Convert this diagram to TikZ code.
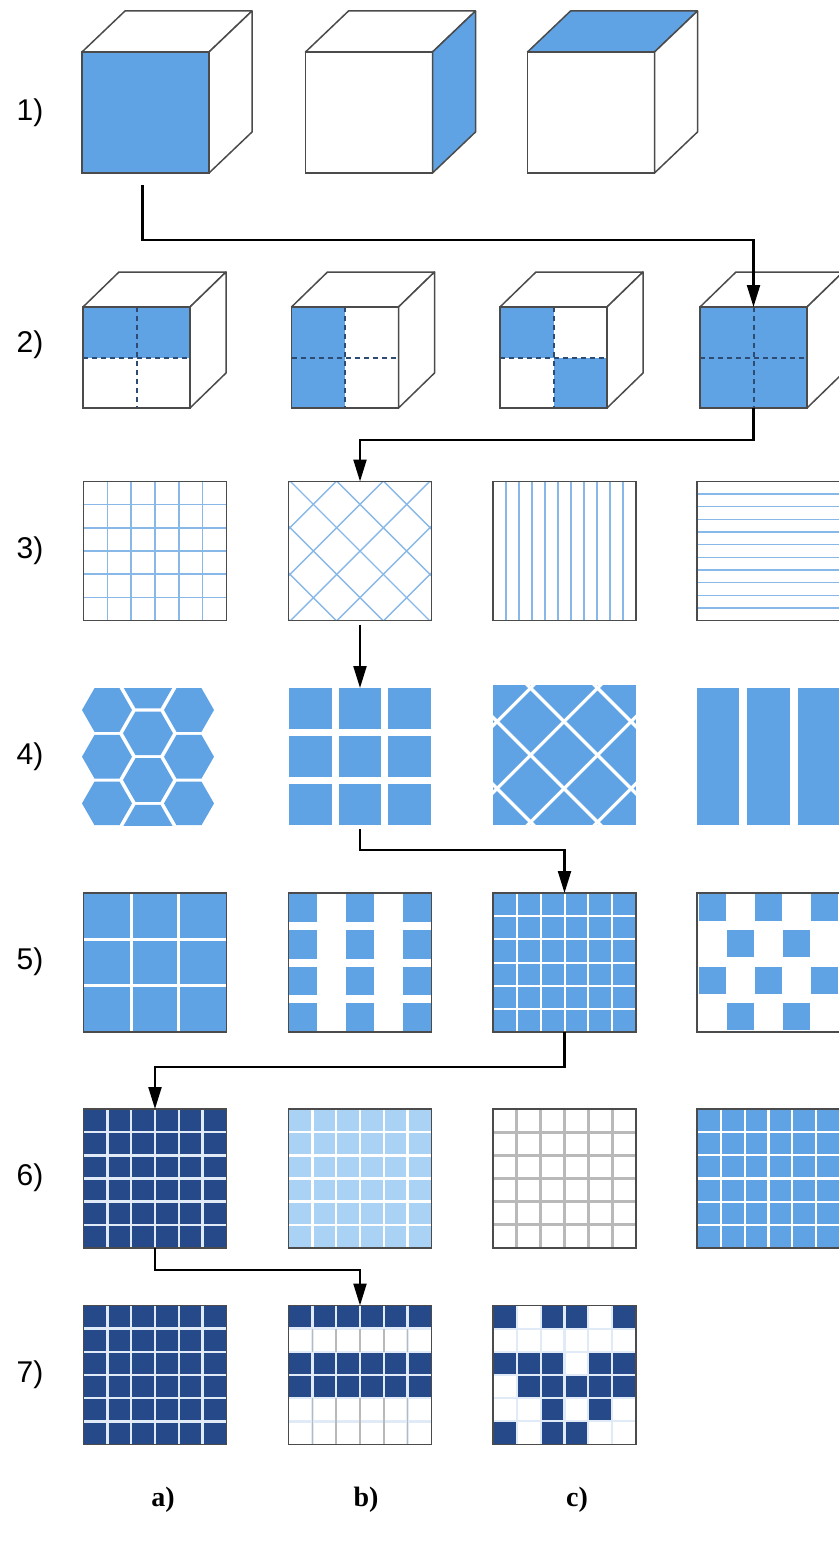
\documentclass[tikz,border=0pt]{standalone}
\usepackage{fontspec}
\setmainfont{Liberation Serif}
\newfontfamily\lblfont{Liberation Sans}
\usetikzlibrary{calc,arrows.meta}
\definecolor{bl}{RGB}{96,163,229}
\definecolor{nv}{RGB}{38,73,138}
\definecolor{lb}{RGB}{170,210,244}
\definecolor{gl}{RGB}{135,184,232}
\definecolor{bd}{RGB}{75,75,75}
\definecolor{dsh}{RGB}{45,75,115}
\definecolor{gr}{RGB}{185,185,185}
\definecolor{wl}{RGB}{225,235,248}
\newcommand\gridsix[2]{%
  \foreach \k in {1,...,5} {%
    \draw[#1,line width=#2] ({\k*143/6},0) -- ({\k*143/6},139);
    \draw[#1,line width=#2] (0,{\k*139/6}) -- (143,{\k*139/6});}}
\newcommand\cubetop[4]{%
  \filldraw[edgeline,fill=#4] (#1.north west) -- (#1.north east) -- ++(#2,-#3) -- ($(#1.north west)+(#2,-#3)$) -- cycle;}
\newcommand\cubeside[4]{%
  \filldraw[edgeline,fill=#4] (#1.north east) -- (#1.south east) -- ++(#2,-#3) -- ($(#1.north east)+(#2,-#3)$) -- cycle;}
\newcommand\hexat[2]{%
  \fill[bl] ({#1-25},{#2}) -- ({#1-12.5},{#2-21.8}) -- ({#1+12.5},{#2-21.8}) -- ({#1+25},{#2}) -- ({#1+12.5},{#2+21.8}) -- ({#1-12.5},{#2+21.8}) -- cycle;}
\begin{document}
\begin{tikzpicture}[x=1pt,y=-1pt,
  tile/.style={minimum width=143pt,minimum height=139pt,inner sep=0pt,outer sep=0pt},
  face/.style={inner sep=0pt,outer sep=0pt},
  edgeline/.style={draw=bd,line width=1.5pt,line join=round},
  border/.style={draw=bd,line width=1.5pt},
  dashline/.style={draw=dsh,line width=2pt,dash pattern=on 5pt off 4pt},
  conn/.style={draw=black,line width=2.2pt,-{Triangle[length=22pt,width=13pt]}},
  rowlabel/.style={font=\lblfont\fontsize{30}{30}\selectfont},
  collabel/.style={font=\bfseries\fontsize{28}{28}\selectfont}]
\useasboundingbox (0,0) rectangle (838,1546);
\fill[white] (0,0) rectangle (838,1546);

% ---------- row labels
\node[rowlabel] (l1) at (30,113) {1)};
\node[rowlabel] (l2) at (30,345) {2)};
\node[rowlabel] (l3) at (30,551) {3)};
\node[rowlabel] (l4) at (30,757) {4)};
\node[rowlabel] (l5) at (30,962) {5)};
\node[rowlabel] (l6) at (30,1178) {6)};
\node[rowlabel] (l7) at (30,1375) {7)};

% ---------- row 1 cubes
\node[face,minimum width=127pt,minimum height=121pt,fill=bl] (c1a) at (145.5,112.5) {};
\cubetop{c1a}{43}{41}{white}\cubeside{c1a}{43}{41}{white}
\draw[border] (c1a.north west) rectangle (c1a.south east);
\node[face,minimum width=127pt,minimum height=121pt,fill=white] (c1b) at (369,112.5) {};
\cubetop{c1b}{43}{41}{white}\cubeside{c1b}{43}{41}{bl}
\draw[border] (c1b.north west) rectangle (c1b.south east);
\node[face,minimum width=127pt,minimum height=121pt,fill=white] (c1c) at (591,112.5) {};
\cubetop{c1c}{43}{41}{bl}\cubeside{c1c}{43}{41}{white}
\draw[border] (c1c.north west) rectangle (c1c.south east);

% ---------- row 2 cubes
\foreach \n/\x in {c2a/136.5,c2b/345,c2c/553.5,c2d/753.5} {
  \node[face,minimum width=107pt,minimum height=101pt,fill=white] (\n) at (\x,357.5) {};
  \cubetop{\n}{36}{35}{white}\cubeside{\n}{36}{35}{white}}
\fill[bl] (c2a.north west) rectangle (c2a.east);
\fill[bl] (c2b.north west) rectangle (c2b.south);
\fill[bl] (c2c.north west) rectangle (c2c.center);
\fill[bl] (c2c.center) rectangle (c2c.south east);
\fill[bl] (c2d.north west) rectangle (c2d.south east);
\foreach \n in {c2a,c2b,c2c,c2d} {
  \draw[dashline] (\n.north) -- (\n.south);
  \draw[dashline] (\n.west) -- (\n.east);
  \draw[border] (\n.north west) rectangle (\n.south east);}

% ---------- row 3
\node[tile] (r3a) at (155,551) {};
\node[tile] (r3b) at (360,551) {};
\node[tile] (r3c) at (564.5,551) {};
\node[tile] (r3d) at (768.5,551) {};
\begin{scope}[shift={(r3a.north west)}]
  \gridsix{gl}{1.4pt}
\end{scope}
\begin{scope}[shift={(r3b.north west)}]
  \clip (0,0) rectangle (143,139);
  \foreach \k in {-4,...,4} {
    \draw[gl,line width=1.4pt] ({71.5+46.7*\k-150},{69.5-150}) -- ({71.5+46.7*\k+150},{69.5+150});
    \draw[gl,line width=1.4pt] ({71.5+46.7*\k-150},{69.5+150}) -- ({71.5+46.7*\k+150},{69.5-150});}
\end{scope}
\begin{scope}[shift={(r3c.north west)}]
  \foreach \k in {1,...,10} \draw[gl,line width=1.3pt] ({\k*143/11},0) -- ({\k*143/11},139);
\end{scope}
\begin{scope}[shift={(r3d.north west)}]
  \foreach \k in {1,...,10} \draw[gl,line width=1.3pt] (0,{\k*139/11}) -- (143,{\k*139/11});
\end{scope}
\foreach \n in {r3a,r3b,r3c,r3d} \draw[border] (\n.north west) rectangle (\n.south east);

% ---------- row 4
\node[tile,minimum width=130pt,minimum height=137pt] (r4a) at (148,756.5) {};
\node[tile,minimum width=142pt,minimum height=137pt] (r4b) at (360,756.5) {};
\node[tile,minimum height=140pt] (r4c) at (564.5,755) {};
\node[tile,minimum height=137pt] (r4d) at (768.5,756.5) {};
\begin{scope}[shift={(r4a.north west)}]
  \clip (-5,0) rectangle (135,137);
  \foreach \y in {22,68.7,115.4} {\hexat{24}{\y}\hexat{106}{\y}}
  \foreach \y in {-1.4,45.3,92,138.7} {\hexat{65}{\y}}
\end{scope}
\begin{scope}[shift={(r4b.north west)}]
  \foreach \i in {0,1,2} \foreach \j in {0,1,2}
    \fill[bl] ({\j*49.67},{\i*48}) rectangle ({\j*49.67+42.67},{\i*48+41});
\end{scope}
\begin{scope}[shift={(r4c.north west)}]
  \fill[bl] (0,0) rectangle (143,140);
  \clip (0,0) rectangle (143,140);
  \foreach \k in {-2,...,2} {
    \draw[white,line width=3.2pt] ({71.5-34+67*\k-150},{70-150}) -- ({71.5-34+67*\k+150},{70+150});
    \draw[white,line width=3.2pt] ({71.5-34+67*\k-150},{70+150}) -- ({71.5-34+67*\k+150},{70-150});}
\end{scope}
\begin{scope}[shift={(r4d.north west)}]
  \foreach \j in {0,1,2} \fill[bl] ({\j*50.33},0) rectangle ({\j*50.33+42.33},137);
\end{scope}

% ---------- row 5
\node[tile] (r5a) at (155,962.5) {};
\node[tile] (r5b) at (360,962.5) {};
\node[tile] (r5c) at (564.5,962.5) {};
\node[tile] (r5d) at (768.5,962.5) {};
\begin{scope}[shift={(r5a.north west)}]
  \fill[bl] (0,0) rectangle (143,139);
  \foreach \k in {1,2} {
    \draw[white,line width=3pt] ({\k*143/3},0) -- ({\k*143/3},139);
    \draw[white,line width=3pt] (0,{\k*139/3}) -- (143,{\k*139/3});}
\end{scope}
\begin{scope}[shift={(r5b.north west)}]
  \foreach \c in {0,2,4} \foreach \r in {0,...,3}
    \fill[bl] ({\c*143/5},{\r*36.75}) rectangle ({(\c+1)*143/5},{\r*36.75+28.75});
\end{scope}
\begin{scope}[shift={(r5c.north west)}]
  \fill[bl] (0,0) rectangle (143,139);
  \gridsix{white}{2pt}
\end{scope}
\begin{scope}[shift={(r5d.north west)}]
  \foreach \c/\r in {0/0,2/0,4/0,1/1,3/1,0/2,2/2,4/2,1/3,3/3}
    \fill[bl] ({2+28*\c},{1+36.3*\r}) rectangle ({29+28*\c},{28+36.3*\r});
\end{scope}
\foreach \n in {r5a,r5b,r5c,r5d} \draw[border] (\n.north west) rectangle (\n.south east);

% ---------- row 6
\node[tile] (r6a) at (155,1178.5) {};
\node[tile] (r6b) at (360,1178.5) {};
\node[tile] (r6c) at (564.5,1178.5) {};
\node[tile] (r6d) at (768.5,1178.5) {};
\begin{scope}[shift={(r6a.north west)}]
  \fill[nv] (0,0) rectangle (143,139);
  \gridsix{wl}{2.5pt}
\end{scope}
\begin{scope}[shift={(r6b.north west)}]
  \fill[lb] (0,0) rectangle (143,139);
  \gridsix{white}{2.5pt}
\end{scope}
\begin{scope}[shift={(r6c.north west)}]
  \gridsix{gr}{2.8pt}
\end{scope}
\begin{scope}[shift={(r6d.north west)}]
  \fill[bl] (0,0) rectangle (143,139);
  \gridsix{white}{2.2pt}
\end{scope}
\foreach \n in {r6a,r6b,r6c,r6d} \draw[border] (\n.north west) rectangle (\n.south east);

% ---------- row 7
\node[tile] (r7a) at (155,1375) {};
\node[tile] (r7b) at (360,1375) {};
\node[tile] (r7c) at (564.5,1375) {};
\begin{scope}[shift={(r7a.north west)}]
  \fill[nv] (0,0) rectangle (143,139);
  \gridsix{wl}{2.5pt}
\end{scope}
\begin{scope}[shift={(r7b.north west)}]
  \foreach \r in {0,2,3} \fill[nv] (0,{\r*139/6}) rectangle (143,{(\r+1)*139/6});
  \gridsix{wl}{2.5pt}
  \foreach \k in {1,...,5} \draw[gr,line width=1.5pt] ({\k*143/6},{4*139/6}) -- ({\k*143/6},139);
  \foreach \k in {1,...,5} \draw[gr,line width=1.5pt] ({\k*143/6},{139/6}) -- ({\k*143/6},{2*139/6});
\end{scope}
\begin{scope}[shift={(r7c.north west)}]
  \foreach \c/\r in {0/0,2/0,3/0,5/0,0/2,1/2,2/2,4/2,5/2,1/3,2/3,3/3,4/3,5/3,2/4,4/4,0/5,2/5,3/5}
    \fill[nv] ({\c*143/6},{\r*139/6}) rectangle ({(\c+1)*143/6},{(\r+1)*139/6});
  \gridsix{wl}{2.2pt}
\end{scope}
\foreach \n in {r7a,r7b,r7c} \draw[border] (\n.north west) rectangle (\n.south east);

% ---------- connectors
\coordinate (h1) at (0,240);
\coordinate (h2) at (0,440);
\coordinate (h4) at (0,850);
\coordinate (h5) at (0,1067);
\coordinate (h6) at (0,1270);
\draw[conn] ([xshift=-3pt,yshift=-12pt]c1a.south) -- ([xshift=-3pt]c1a.south |- h1) -- (c2d.north |- h1) -- (c2d.north);
\draw[conn] (c2d.south) -- (c2d.south |- h2) -- (r3b.north |- h2) -- (r3b.north);
\draw[conn] ([yshift=-4pt]r3b.south) -- (r4b.north);
\draw[conn] ([yshift=-4pt]r4b.south) -- (r4b.south |- h4) -- (r5c.north |- h4) -- (r5c.north);
\draw[conn] (r5c.south) -- (r5c.south |- h5) -- (r6a.north |- h5) -- (r6a.north);
\draw[conn] (r6a.south) -- (r6a.south |- h6) -- (r7b.north |- h6) -- (r7b.north);

% ---------- column labels
\node[collabel] (la) at (163,1500) {a)};
\node[collabel] (lb) at (366,1500) {b)};
\node[collabel] (lc) at (577,1500) {c)};
\end{tikzpicture}
\end{document}
